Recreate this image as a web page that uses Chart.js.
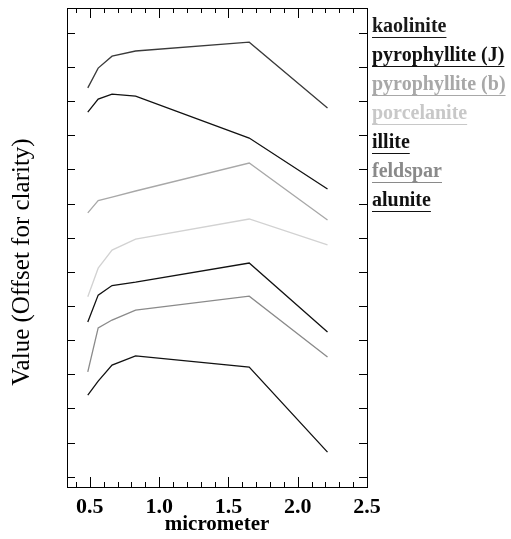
<!DOCTYPE html>
<html>
<head>
<meta charset="utf-8">
<script src="https://cdn.jsdelivr.net/npm/chart.js@4.4.0/dist/chart.umd.min.js"></script>
<style>
  html, body { margin: 0; padding: 0; background: #fff; }
  canvas { display: block; }
</style>
</head>
<body>
<canvas id="c" width="511" height="539"></canvas>
<script>
// ---- data ----
const wavelengths = [0.485, 0.56, 0.66, 0.83, 1.65, 2.215];
const seriesNames = ['kaolinite', 'pyrophyllite (J)', 'pyrophyllite (b)', 'porcelanite', 'illite', 'feldspar', 'alunite'];
const kaolinite     = [1.139, 1.197, 1.232, 1.247, 1.273, 1.080];
const pyrophylliteJ = [1.068, 1.106, 1.121, 1.115, 0.992, 0.843];
const pyrophylliteB = [0.773, 0.809, 0.819, 0.837, 0.919, 0.752];
const porcelanite   = [0.527, 0.611, 0.664, 0.696, 0.755, 0.679];
const illite        = [0.453, 0.532, 0.560, 0.570, 0.626, 0.424];
const feldspar      = [0.307, 0.436, 0.459, 0.488, 0.529, 0.351];
const alunite       = [0.239, 0.280, 0.327, 0.354, 0.321, 0.072];
const xTickLabels = [0.5, 1.0, 1.5, 2.0, 2.5];
const xMinorTicks = [0.4,0.5,0.6,0.7,0.8,0.9,1.0,1.1,1.2,1.3,1.4,1.5,1.6,1.7,1.8,1.9,2.0,2.1,2.2,2.3,2.4,2.5];
const yTicks = [0,0.1,0.2,0.3,0.4,0.5,0.6,0.7,0.8,0.9,1.0,1.1,1.2,1.3];
const yTitle = 'Value (Offset for clarity)';
const xTitle = 'micrometer';

const seriesValues = [kaolinite, pyrophylliteJ, pyrophylliteB, porcelanite, illite, feldspar, alunite];
const lineColors = ['#3a3a3a', '#111111', '#a8a8a8', '#d2d2d2', '#111111', '#8a8a8a', '#111111'];
const textColors = ['#1a1a1a', '#111111', '#a8a8a8', '#c8c8c8', '#111111', '#8a8a8a', '#111111'];

const datasets = seriesNames.map((name, i) => ({
  label: name,
  data: wavelengths.map((w, j) => ({ x: w, y: seriesValues[i][j] })),
  borderColor: lineColors[i],
  backgroundColor: lineColors[i],
  borderWidth: 1.3,
  pointRadius: 0,
  tension: 0,
  fill: false
}));

const SERIF = '"Liberation Serif", "Times New Roman", serif';

const framePlugin = {
  id: 'frame',
  afterDraw(chart) {
    const { ctx, chartArea: a, scales } = chart;
    const xs = scales.x, ys = scales.y;
    ctx.save();
    ctx.strokeStyle = '#000';
    ctx.lineWidth = 1;
    ctx.strokeRect(Math.round(a.left) + 0.5, Math.round(a.top) + 0.5,
                   Math.round(a.right - a.left), Math.round(a.bottom - a.top));
    ctx.beginPath();
    xMinorTicks.forEach(v => {
      const px = Math.round(xs.getPixelForValue(v)) + 0.5;
      const major = xTickLabels.some(t => Math.abs(t - v) < 1e-6);
      const len = major ? 10 : 5;
      ctx.moveTo(px, a.bottom); ctx.lineTo(px, a.bottom - len);
      ctx.moveTo(px, a.top); ctx.lineTo(px, a.top + len);
    });
    yTicks.forEach(v => {
      const py = Math.round(ys.getPixelForValue(v)) + 0.5;
      ctx.moveTo(a.left, py); ctx.lineTo(a.left + 8, py);
      ctx.moveTo(a.right, py); ctx.lineTo(a.right - 8, py);
    });
    ctx.stroke();

    // y title
    ctx.save();
    ctx.translate(22, 262);
    ctx.rotate(-Math.PI / 2);
    ctx.font = '25px ' + SERIF;
    ctx.fillStyle = '#000';
    ctx.textAlign = 'center';
    ctx.textBaseline = 'middle';
    ctx.fillText(yTitle, 0, 0);
    ctx.restore();

    // legend
    ctx.font = 'bold 20px ' + SERIF;
    ctx.textBaseline = 'middle';
    ctx.textAlign = 'left';
    const lx = a.right + 5;
    seriesNames.forEach((name, i) => {
      const cy = 27 + i * 29;
      ctx.fillStyle = textColors[i];
      ctx.fillText(name, lx, cy);
      const w = ctx.measureText(name).width;
      ctx.strokeStyle = textColors[i];
      ctx.beginPath();
      ctx.moveTo(lx, cy + 10.5); ctx.lineTo(lx + w, cy + 10.5);
      ctx.stroke();
    });
    ctx.restore();
  }
};

new Chart(document.getElementById('c'), {
  type: 'line',
  data: { datasets },
  options: {
    responsive: false,
    animation: false,
    devicePixelRatio: 1,
    layout: { padding: { top: 8, right: 144, left: 0, bottom: 0 } },
    plugins: { legend: { display: false }, tooltip: { enabled: false } },
    scales: {
      x: {
        type: 'linear',
        min: 0.335,
        max: 2.5,
        border: { display: false },
        grid: { display: false, drawTicks: false },
        afterBuildTicks: s => { s.ticks = xTickLabels.map(v => ({ value: v })); },
        afterFit: s => { s.height = 52; },
        ticks: {
          padding: 7,
          color: '#000',
          font: { family: SERIF, size: 22, weight: 'bold' },
          maxRotation: 0,
          autoSkip: false,
          callback: v => Number(v).toFixed(1)
        },
        title: {
          display: true,
          text: xTitle,
          color: '#000',
          font: { family: SERIF, size: 21, weight: 'bold' },
          padding: { top: 0, bottom: 2 }
        }
      },
      y: {
        type: 'linear',
        min: -0.03,
        max: 1.373,
        border: { display: false },
        grid: { display: false, drawTicks: false },
        afterFit: s => { s.width = 67; },
        ticks: { display: false },
        title: { display: false, text: yTitle }
      }
    }
  },
  plugins: [framePlugin]
});
</script>
</body>
</html>
